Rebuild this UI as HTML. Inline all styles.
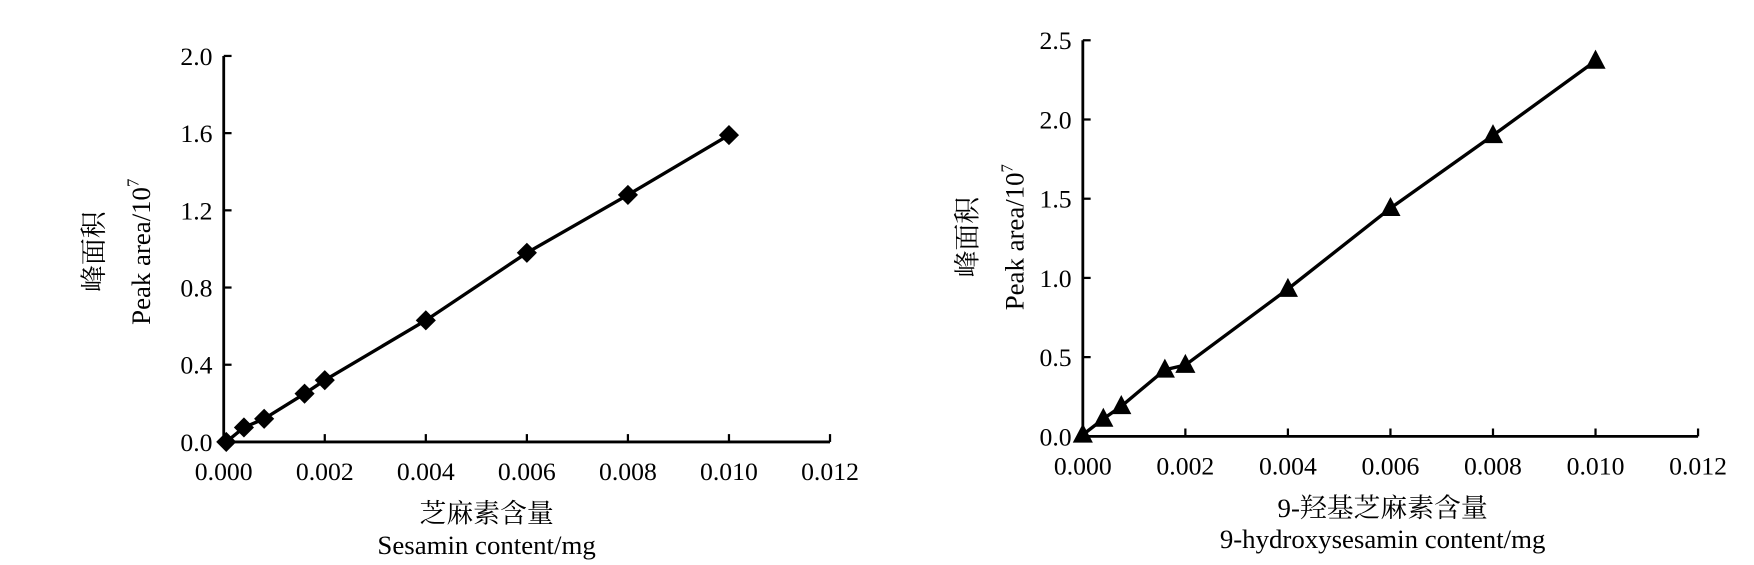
<!DOCTYPE html>
<html><head><meta charset="utf-8"><style>
body{margin:0;background:#fff;}
svg{display:block;font-family:"Liberation Serif","Noto Serif CJK SC",serif;}
</style></head><body>
<svg id="s" width="1754" height="565" viewBox="0 0 1568 505" preserveAspectRatio="none"></svg>
<script>
const xTicks1=["0.000","0.002","0.004","0.006","0.008","0.010","0.012"];
const yTicks1=["0.0","0.4","0.8","1.2","1.6","2.0"];
const xVals1=[0.00005,0.0004,0.0008,0.0016,0.002,0.004,0.006,0.008,0.010];
const yVals1=[0.0,0.075,0.12,0.25,0.32,0.63,0.98,1.28,1.59];
const xTicks2=["0.000","0.002","0.004","0.006","0.008","0.010","0.012"];
const yTicks2=["0.0","0.5","1.0","1.5","2.0","2.5"];
const xVals2=[0.0,0.0004,0.00075,0.0016,0.002,0.004,0.006,0.008,0.010];
const yVals2=[0.01,0.11,0.19,0.42,0.45,0.93,1.44,1.90,2.37];
const NS="http://www.w3.org/2000/svg";
const svg=document.getElementById('s');
function mk(t,a,p){const e=document.createElementNS(NS,t);for(const k in a)e.setAttribute(k,a[k]);(p||svg).appendChild(e);return e;}
function chart(o){
 const g=mk('g',{});
 
 
 const xs=v=>o.x0+(v-o.xmin)/(o.xmax-o.xmin)*(o.x1-o.x0);
 const ys=v=>o.y0-(v-o.ymin)/(o.ymax-o.ymin)*(o.y0-o.y1);
 const ax=mk('path',{d:`M${o.x0},${o.y1}V${o.y0}H${o.x1}`,stroke:'#000','stroke-width':2.5,fill:'none'},g);
 
 
 o.xt.forEach(t=>{const x=xs(parseFloat(t));
  mk('line',{x1:x,x2:x,y1:o.y0,y2:o.y0-7,stroke:'#000','stroke-width':2},g);
  const tx=mk('text',{x:x,y:o.y0+34,'font-size':23,'text-anchor':'middle'},g);tx.textContent=t;
  
  });
 o.yt.forEach(t=>{const y=ys(parseFloat(t));
  mk('line',{x1:o.x0,x2:o.x0+7,y1:y,y2:y,stroke:'#000','stroke-width':2},g);
  const tx=mk('text',{x:o.x0-10,y:y+8,'font-size':23,'text-anchor':'end'},g);tx.textContent=t;
  
  });
 const pts=o.xv.map((v,i)=>[xs(v),ys(o.yv[i])]);
 const ln=mk('polyline',{points:pts.map(p=>p.join(',')).join(' '),stroke:'#000','stroke-width':3,fill:'none'},g);
 
 
 pts.forEach(([x,y])=>{let m;
  if(o.marker==='d')m=mk('path',{d:`M${x},${y-9}L${x+9},${y}L${x},${y+9}L${x-9},${y}Z`,fill:'#000'},g);
  else m=mk('path',{d:`M${x},${y-10}L${x+9},${y+7}L${x-9},${y+7}Z`,fill:'#000'},g);
  
  });
 const yl=mk('text',{transform:`translate(${o.ylx},${o.yly}) rotate(-90)`,'font-size':24,'text-anchor':'middle'},g);
 
 
 const a=mk('tspan',{x:0,y:0},yl);a.textContent='峰面积';
 const b=mk('tspan',{x:0,y:42},yl);b.textContent='Peak area/10';
 const c=mk('tspan',{dy:-10,'font-size':15},yl);c.textContent='7';
 const xl=mk('text',{x:o.xlx,y:o.y0+72,'font-size':24,'text-anchor':'middle'},g);xl.textContent=o.xl1;
 
 
 const xl2=mk('text',{x:o.xlx,y:o.y0+100,'font-size':24,'text-anchor':'middle'},g);xl2.textContent=o.xl2;
 
 
}
chart({name:'sesamin-chart',x0:200,x1:742,y0:395,y1:50,xmin:0,xmax:0.012,ymin:0,ymax:2,xt:xTicks1,yt:yTicks1,xv:xVals1,yv:yVals1,marker:'d',ylx:92,yly:225,xlx:435,xl1:'芝麻素含量',xl2:'Sesamin content/mg'});
chart({name:'hydroxysesamin-chart',x0:968,x1:1518,y0:390,y1:36,xmin:0,xmax:0.012,ymin:0,ymax:2.5,xt:xTicks2,yt:yTicks2,xv:xVals2,yv:yVals2,marker:'t',ylx:873,yly:212,xlx:1236,xl1:'9-羟基芝麻素含量',xl2:'9-hydroxysesamin content/mg'});
</script>
</body></html>
